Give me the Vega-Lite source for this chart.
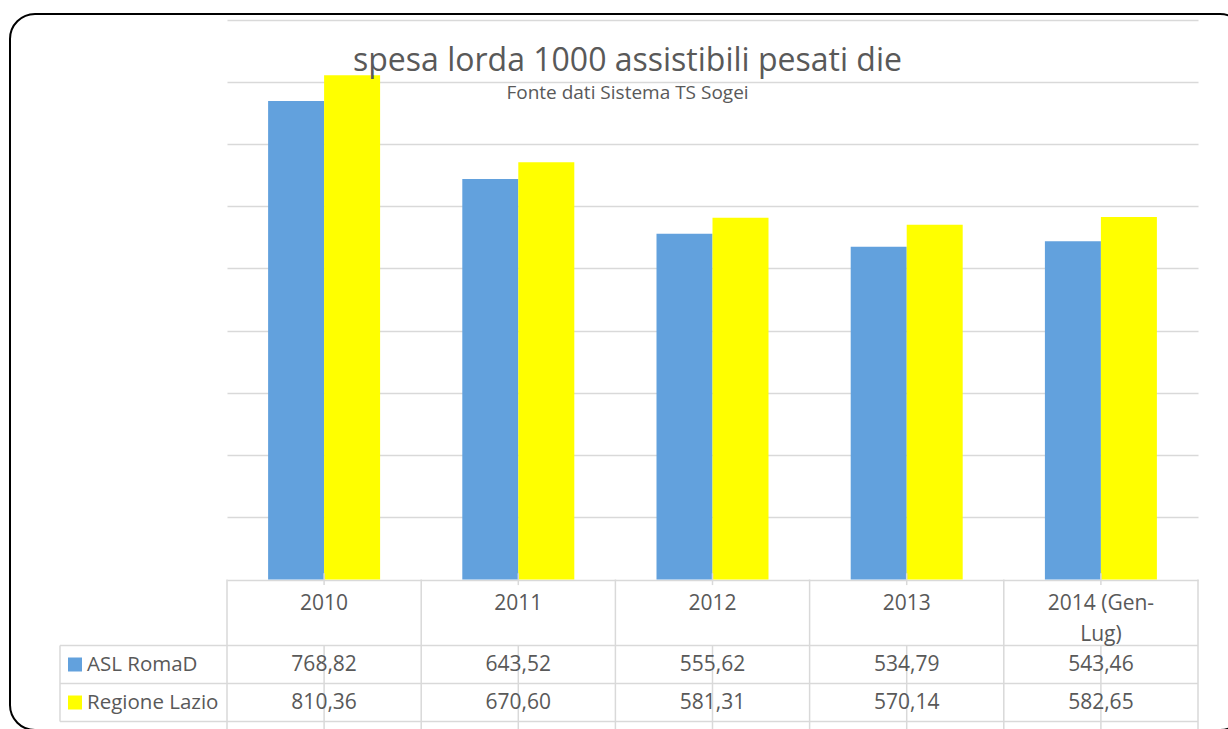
{
  "$schema": "https://vega.github.io/schema/vega-lite/v6.json",
  "width": 1235,
  "height": 716,
  "autosize": "none",
  "padding": {"left": 10, "top": 14, "right": -17, "bottom": -1},
  "background": "white",
  "title": {
    "text": "spesa lorda 1000 assistibili pesati die",
    "subtitle": "Fonte dati Sistema TS Sogei",
    "anchor": "middle",
    "frame": "group",
    "font": "Open Sans",
    "fontSize": 32,
    "fontWeight": "normal",
    "color": "#595959",
    "subtitleFont": "Open Sans",
    "subtitleFontSize": 19,
    "subtitleColor": "#595959",
    "subtitlePadding": 6,
    "offset": -90
  },
  "datasets": {
    "vals": [
      {"year": "2010", "series": "ASL RomaD", "value": 768.82},
      {"year": "2010", "series": "Regione Lazio", "value": 810.36},
      {"year": "2011", "series": "ASL RomaD", "value": 643.52},
      {"year": "2011", "series": "Regione Lazio", "value": 670.60},
      {"year": "2012", "series": "ASL RomaD", "value": 555.62},
      {"year": "2012", "series": "Regione Lazio", "value": 581.31},
      {"year": "2013", "series": "ASL RomaD", "value": 534.79},
      {"year": "2013", "series": "Regione Lazio", "value": 570.14},
      {"year": "2014 (Gen-Lug)", "series": "ASL RomaD", "value": 543.46},
      {"year": "2014 (Gen-Lug)", "series": "Regione Lazio", "value": 582.65}
    ]
  },
  "config": {
    "view": {"stroke": "#000000", "strokeWidth": 2, "cornerRadius": 25},
    "locale": {"number": {"decimal": ",", "thousands": ".", "grouping": [3], "currency": ["€", ""]}},
    "font": "Open Sans"
  },
  "resolve": {"scale": {"y": "independent"}, "axis": {"y": "independent"}},
  "layer": [
    {
      "data": {"name": "vals"},
      "mark": {"type": "bar"},
      "encoding": {
        "x": {
          "field": "year", "type": "nominal",
          "scale": {"type": "band", "domain": ["2010", "2011", "2012", "2013", "2014 (Gen-Lug)"], "range": [217, 1188], "paddingInner": 0, "paddingOuter": 0},
          "axis": null
        },
        "xOffset": {"field": "series", "type": "nominal", "scale": {"domain": ["ASL RomaD", "Regione Lazio"], "paddingInner": 0, "paddingOuter": 0.734}},
        "y": {
          "field": "value", "type": "quantitative",
          "scale": {"type": "linear", "domain": [0, 900], "range": [565.5, 5.5], "nice": false, "zero": false},
          "axis": {"title": null, "grid": true, "values": [0, 100, 200, 300, 400, 500, 600, 700, 800, 900], "labels": false, "ticks": false, "domain": false, "gridColor": "#D9D9D9", "gridWidth": 1.5}
        },
        "color": {"field": "series", "type": "nominal", "scale": {"domain": ["ASL RomaD", "Regione Lazio"], "range": ["#62A1DD", "#FFFF00"]}, "legend": null}
      }
    },
    {
      "data": {"name": "vals"},
      "transform": [{"filter": "datum.series == 'ASL RomaD'"}],
      "mark": {"type": "rule", "color": "#D9D9D9", "strokeWidth": 1.5},
      "encoding": {
        "x": {"field": "year", "type": "nominal", "bandPosition": 0, "scale": {"type": "band", "domain": ["2010", "2011", "2012", "2013", "2014 (Gen-Lug)"], "range": [217, 1188], "paddingInner": 0, "paddingOuter": 0}, "axis": null},
        "y": {"datum": 0, "type": "quantitative", "scale": {"type": "linear", "domain": [0, 900], "range": [565.5, 5.5], "nice": false, "zero": false}, "axis": null},
        "y2": {"datum": -260}
      }
    },
    {
      "data": {"name": "vals"},
      "transform": [{"filter": "datum.series == 'ASL RomaD' && datum.year == '2014 (Gen-Lug)'"}],
      "mark": {"type": "rule", "color": "#D9D9D9", "strokeWidth": 1.5},
      "encoding": {
        "x": {"field": "year", "type": "nominal", "bandPosition": 1, "scale": {"type": "band", "domain": ["2010", "2011", "2012", "2013", "2014 (Gen-Lug)"], "range": [217, 1188], "paddingInner": 0, "paddingOuter": 0}, "axis": null},
        "y": {"datum": 0, "type": "quantitative", "scale": {"type": "linear", "domain": [0, 900], "range": [565.5, 5.5], "nice": false, "zero": false}, "axis": null},
        "y2": {"datum": -260}
      }
    },
    {
      "data": {"name": "vals"},
      "transform": [{"filter": "datum.series == 'ASL RomaD'"}],
      "mark": {"type": "rule", "color": "#D9D9D9", "strokeWidth": 1.5, "xOffset": 97.1},
      "encoding": {
        "x": {"field": "year", "type": "nominal", "bandPosition": 0, "scale": {"type": "band", "domain": ["2010", "2011", "2012", "2013", "2014 (Gen-Lug)"], "range": [217, 1188], "paddingInner": 0, "paddingOuter": 0}, "axis": null},
        "y": {"datum": -106, "type": "quantitative", "scale": {"type": "linear", "domain": [0, 900], "range": [565.5, 5.5], "nice": false, "zero": false}, "axis": null},
        "y2": {"datum": -260}
      }
    },
    {
      "data": {"name": "vals"},
      "transform": [{"filter": "datum.series == 'ASL RomaD'"}],
      "mark": {"type": "rule", "color": "#D9D9D9", "strokeWidth": 1.5, "xOffset": 97.1},
      "encoding": {
        "x": {"field": "year", "type": "nominal", "bandPosition": 0, "scale": {"type": "band", "domain": ["2010", "2011", "2012", "2013", "2014 (Gen-Lug)"], "range": [217, 1188], "paddingInner": 0, "paddingOuter": 0}, "axis": null},
        "y": {"datum": 10, "type": "quantitative", "scale": {"type": "linear", "domain": [0, 900], "range": [565.5, 5.5], "nice": false, "zero": false}, "axis": null},
        "y2": {"datum": -9}
      }
    },
    {
      "data": {"name": "vals"},
      "transform": [{"filter": "datum.year == '2010'"}],
      "mark": {"type": "rule", "color": "#D9D9D9", "strokeWidth": 1.5},
      "encoding": {
        "y": {"field": "series", "type": "nominal", "bandPosition": 0, "scale": {"type": "band", "domain": ["ASL RomaD", "Regione Lazio"], "range": [631.5, 707.5], "paddingInner": 0, "paddingOuter": 0}, "axis": null},
        "x": {"datum": "2010", "type": "nominal", "bandPosition": -0.86, "scale": {"type": "band", "domain": ["2010", "2011", "2012", "2013", "2014 (Gen-Lug)"], "range": [217, 1188], "paddingInner": 0, "paddingOuter": 0}, "axis": null},
        "x2": {"datum": "2014 (Gen-Lug)", "bandPosition": 1}
      }
    },
    {
      "data": {"name": "vals"},
      "transform": [{"filter": "datum.year == '2010' && datum.series == 'Regione Lazio'"}],
      "mark": {"type": "rule", "color": "#D9D9D9", "strokeWidth": 1.5},
      "encoding": {
        "y": {"field": "series", "type": "nominal", "bandPosition": 1, "scale": {"type": "band", "domain": ["ASL RomaD", "Regione Lazio"], "range": [631.5, 707.5], "paddingInner": 0, "paddingOuter": 0}, "axis": null},
        "x": {"datum": "2010", "type": "nominal", "bandPosition": -0.86, "scale": {"type": "band", "domain": ["2010", "2011", "2012", "2013", "2014 (Gen-Lug)"], "range": [217, 1188], "paddingInner": 0, "paddingOuter": 0}, "axis": null},
        "x2": {"datum": "2014 (Gen-Lug)", "bandPosition": 1}
      }
    },
    {
      "data": {"name": "vals"},
      "transform": [{"filter": "datum.year == '2010' && datum.series == 'ASL RomaD'"}],
      "mark": {"type": "rule", "color": "#D9D9D9", "strokeWidth": 1.5},
      "encoding": {
        "x": {"datum": "2010", "type": "nominal", "bandPosition": -0.86, "scale": {"type": "band", "domain": ["2010", "2011", "2012", "2013", "2014 (Gen-Lug)"], "range": [217, 1188], "paddingInner": 0, "paddingOuter": 0}, "axis": null},
        "y": {"datum": "ASL RomaD", "type": "nominal", "bandPosition": 0, "scale": {"type": "band", "domain": ["ASL RomaD", "Regione Lazio"], "range": [631.5, 707.5], "paddingInner": 0, "paddingOuter": 0}, "axis": null},
        "y2": {"datum": "Regione Lazio", "bandPosition": 1}
      }
    },
    {
      "data": {"name": "vals"},
      "transform": [{"filter": "datum.series == 'ASL RomaD'"}],
      "mark": {"type": "text", "font": "Open Sans", "fontSize": 21, "color": "#595959", "align": "center", "baseline": "top", "lineHeight": 31,
               "text": {"expr": "datum.year == '2014 (Gen-Lug)' ? ['2014 (Gen-', 'Lug)'] : datum.year"}},
      "encoding": {
        "x": {"field": "year", "type": "nominal", "scale": {"type": "band", "domain": ["2010", "2011", "2012", "2013", "2014 (Gen-Lug)"], "range": [217, 1188], "paddingInner": 0, "paddingOuter": 0}, "axis": null},
        "y": {"datum": -22, "type": "quantitative", "scale": {"type": "linear", "domain": [0, 900], "range": [565.5, 5.5], "nice": false, "zero": false}, "axis": null}
      }
    },
    {
      "data": {"name": "vals"},
      "mark": {"type": "text", "font": "Open Sans", "fontSize": 21, "color": "#595959", "align": "center", "baseline": "middle"},
      "encoding": {
        "x": {"field": "year", "type": "nominal", "scale": {"type": "band", "domain": ["2010", "2011", "2012", "2013", "2014 (Gen-Lug)"], "range": [217, 1188], "paddingInner": 0, "paddingOuter": 0}, "axis": null},
        "y": {"field": "series", "type": "nominal", "scale": {"type": "band", "domain": ["ASL RomaD", "Regione Lazio"], "range": [631.5, 707.5], "paddingInner": 0, "paddingOuter": 0}, "axis": null},
        "text": {"field": "value", "type": "quantitative", "format": ".2f"}
      }
    },
    {
      "data": {"name": "vals"},
      "transform": [{"filter": "datum.year == '2010'"}],
      "mark": {"type": "text", "font": "Open Sans", "fontSize": 20.5, "color": "#595959", "align": "left", "baseline": "middle"},
      "encoding": {
        "x": {"datum": "2010", "type": "nominal", "bandPosition": -0.7209, "scale": {"type": "band", "domain": ["2010", "2011", "2012", "2013", "2014 (Gen-Lug)"], "range": [217, 1188], "paddingInner": 0, "paddingOuter": 0}, "axis": null},
        "y": {"field": "series", "type": "nominal", "scale": {"type": "band", "domain": ["ASL RomaD", "Regione Lazio"], "range": [631.5, 707.5], "paddingInner": 0, "paddingOuter": 0}, "axis": null},
        "text": {"field": "series", "type": "nominal"}
      }
    },
    {
      "data": {"name": "vals"},
      "transform": [{"filter": "datum.year == '2010'"}],
      "mark": {"type": "point", "shape": "square", "filled": true, "opacity": 1, "size": 196},
      "encoding": {
        "x": {"datum": "2010", "type": "nominal", "bandPosition": -0.7827, "scale": {"type": "band", "domain": ["2010", "2011", "2012", "2013", "2014 (Gen-Lug)"], "range": [217, 1188], "paddingInner": 0, "paddingOuter": 0}, "axis": null},
        "y": {"field": "series", "type": "nominal", "scale": {"type": "band", "domain": ["ASL RomaD", "Regione Lazio"], "range": [631.5, 707.5], "paddingInner": 0, "paddingOuter": 0}, "axis": null},
        "color": {"field": "series", "type": "nominal", "scale": {"domain": ["ASL RomaD", "Regione Lazio"], "range": ["#62A1DD", "#FFFF00"]}, "legend": null}
      }
    }
  ]
}
